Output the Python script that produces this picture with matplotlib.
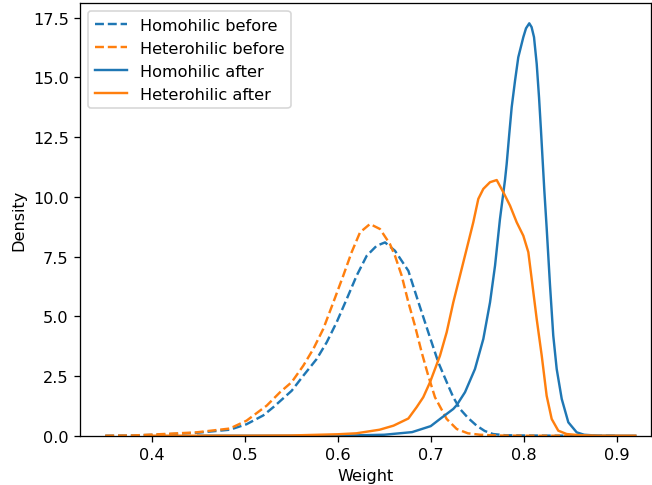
import matplotlib
matplotlib.use("Agg")
import matplotlib.pyplot as plt

# Homohilic before (blue dashed)
homo_before_x = [0.35, 0.38, 0.4125, 0.448, 0.484, 0.502, 0.52, 0.531, 0.5505, 0.563, 0.5774,
                 0.5882, 0.5989, 0.6097, 0.6204, 0.6312, 0.6419, 0.6509, 0.6616, 0.676, 0.6867,
                 0.6974, 0.7082, 0.7189, 0.7243, 0.7315, 0.74, 0.7494, 0.758, 0.767, 0.78, 0.80,
                 0.85, 0.90]
homo_before_y = [0.0, 0.01, 0.05, 0.12, 0.25, 0.48, 0.85, 1.2, 1.88, 2.51, 3.21,
                 3.91, 4.75, 5.72, 6.70, 7.53, 7.95, 8.09, 7.74, 6.9, 5.6,
                 4.33, 3.07, 2.09, 1.61, 1.12, 0.75, 0.42, 0.2, 0.07, 0.02, 0.01,
                 0.0, 0.0]

# Heterohilic before (orange dashed)
hetero_before_x = [0.35, 0.38, 0.4125, 0.448, 0.484, 0.502, 0.5237, 0.538, 0.5505, 0.563, 0.5738,
                   0.5845, 0.5953, 0.606, 0.615, 0.624, 0.6347, 0.6455, 0.6562, 0.6616, 0.6688,
                   0.676, 0.6831, 0.6903, 0.6974, 0.7046, 0.7172, 0.728, 0.74, 0.753, 0.77, 0.80,
                   0.85]
hetero_before_y = [0.0, 0.01, 0.07, 0.14, 0.3, 0.63, 1.26, 1.82, 2.24, 2.93, 3.63,
                   4.47, 5.58, 6.70, 7.68, 8.51, 8.86, 8.65, 8.02, 7.53, 6.70,
                   5.58, 4.60, 3.49, 2.51, 1.61, 0.70, 0.28, 0.1, 0.04, 0.01, 0.0,
                   0.0]

# Homohilic after (blue solid)
homo_after_x = [0.45, 0.60, 0.65, 0.68, 0.70, 0.71, 0.7243, 0.728, 0.7369, 0.7476, 0.7566,
                0.7638, 0.7692, 0.7745, 0.7799, 0.7817, 0.7845, 0.7871, 0.7907, 0.7942, 0.7996,
                0.8025, 0.806, 0.8085, 0.8111, 0.814, 0.8165, 0.8186, 0.8204, 0.8222, 0.8247,
                0.8283, 0.8318, 0.8355, 0.8409, 0.848, 0.857, 0.865, 0.88, 0.92]
homo_after_y = [0.0, 0.0, 0.04, 0.15, 0.4, 0.70, 1.12, 1.28, 1.82, 2.79, 4.05,
                5.58, 7.12, 9.07, 10.7, 11.37, 12.63, 13.75, 14.86, 15.84, 16.68,
                17.05, 17.26, 17.1, 16.68, 15.56, 14.16, 12.77, 11.51, 10.26, 8.7,
                6.3, 4.19, 2.79, 1.54, 0.56, 0.14, 0.04, 0.0, 0.0]

# Heterohilic after (orange solid)
hetero_after_x = [0.40, 0.50, 0.55, 0.60, 0.62, 0.645, 0.66, 0.676, 0.685, 0.692, 0.6993,
                  0.71, 0.7172, 0.7243, 0.7315, 0.7387, 0.7458, 0.7512, 0.7566, 0.7638, 0.771,
                  0.7781, 0.7853, 0.7925, 0.7996, 0.805, 0.8086, 0.814, 0.8194, 0.8247, 0.8301,
                  0.8372, 0.8462, 0.86, 0.88, 0.92]
hetero_after_y = [0.0, 0.0, 0.01, 0.06, 0.1, 0.25, 0.42, 0.72, 1.2, 1.61, 2.24,
                  3.35, 4.33, 5.58, 6.70, 7.82, 8.93, 9.91, 10.33, 10.61, 10.70,
                  10.19, 9.63, 8.93, 8.37, 7.68, 6.56, 4.88, 3.35, 1.67, 0.70,
                  0.21, 0.07, 0.02, 0.0, 0.0]

labels = ["Homohilic before", "Heterohilic before", "Homohilic after", "Heterohilic after"]

dpi = 116
fig = plt.figure(figsize=(652 / dpi, 486 / dpi), dpi=dpi)
ax = fig.add_axes([80 / 652, (486 - 436.7) / 486, (651 - 80) / 652, (436.7 - 4) / 486])

ax.plot(homo_before_x, homo_before_y, color="tab:blue", ls="--", lw=1.5, label=labels[0])
ax.plot(hetero_before_x, hetero_before_y, color="tab:orange", ls="--", lw=1.5, label=labels[1])
ax.plot(homo_after_x, homo_after_y, color="tab:blue", ls="-", lw=1.5, label=labels[2])
ax.plot(hetero_after_x, hetero_after_y, color="tab:orange", ls="-", lw=1.5, label=labels[3])

ax.set_xlim(0.3229, 0.9369)
ax.set_ylim(0, 18.11)
ax.set_yticks([0, 2.5, 5, 7.5, 10, 12.5, 15, 17.5])
ax.set_xlabel("Weight")
ax.set_ylabel("Density")
ax.legend(loc="upper left")

fig.savefig("out.png", dpi=dpi)
